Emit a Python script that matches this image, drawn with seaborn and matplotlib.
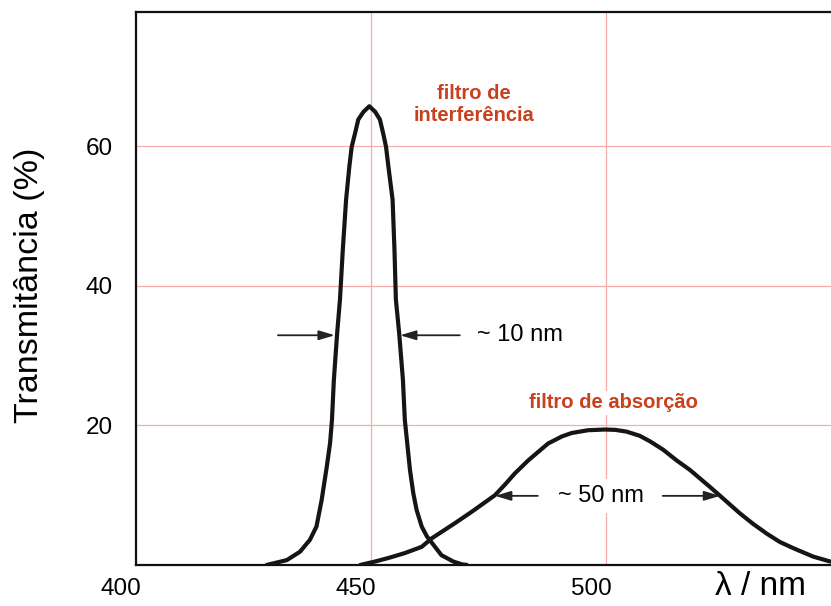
import matplotlib
matplotlib.use("Agg")
import matplotlib.pyplot as plt
import matplotlib.transforms as mtransforms
import seaborn as sns
import pandas as pd

# filtro de interferência: comprimento de onda (nm) x transmitância (%)
wl_interf = [427.8, 432.1, 434.9, 437.0, 438.4, 439.5, 440.6, 441.3, 441.7, 442.1,
             442.8, 443.4, 444.0, 444.7, 445.4, 445.9, 446.6, 447.3, 448.4, 449.65,
             450.9, 451.9, 452.6, 453.2, 453.7, 454.6, 455.0, 455.3, 456.0, 456.8,
             457.2, 458.3, 459.0, 459.7, 460.8, 461.9, 465.0, 467.5, 469.3, 470.4]
t_interf = [0.0, 0.7, 1.9, 3.6, 5.5, 9.3, 14.1, 17.5, 20.8, 26.5,
            33.2, 38.0, 45.1, 52.3, 57.1, 59.9, 61.8, 63.8, 64.9, 65.7,
            64.9, 63.8, 61.8, 59.9, 57.1, 52.3, 45.1, 38.0, 33.2, 26.5,
            20.8, 13.6, 10.3, 7.9, 5.5, 4.1, 1.4, 0.5, 0.1, 0.0]

# filtro de absorção
wl_absor = [447.7, 450.9, 453.7, 457.2, 460.8, 462.9, 467.9, 471.4, 476.4, 478.5,
            480.6, 483.5, 485.6, 487.7, 490.6, 492.7, 496.2, 499.8, 502.0, 504.4,
            507.2, 509.4, 512.2, 515.0, 517.9, 520.0, 522.1, 524.3, 528.5, 531.3,
            534.2, 537.0, 539.9, 544.1, 547.7]
t_absor = [0.0, 0.5, 1.0, 1.7, 2.6, 3.8, 6.0, 7.6, 10.0, 11.5,
           13.1, 15.0, 16.2, 17.4, 18.4, 18.9, 19.3, 19.4, 19.35, 19.1,
           18.5, 17.7, 16.5, 15.0, 13.6, 12.4, 11.2, 9.9, 7.4, 5.9,
           4.5, 3.3, 2.4, 1.2, 0.5]

x_ticks = [400, 450, 500]
y_ticks = [20, 40, 60]
grid_x = [450, 500]
grid_y = [20, 40, 60]

# setas de largura de banda: (cauda, ponta, altura)
arrows_interf = [(430.2, 442.3, 32.9), (468.9, 456.2, 32.9)]
arrows_absor = [(485.5, 476.4, 9.9), (512.1, 524.3, 9.9)]

red = '#C8401E'
pink = '#F5ADA6'

sns.set_style("white")
plt.rcParams['font.family'] = ['Liberation Sans', 'DejaVu Sans']
plt.rcParams['text.color'] = 'black'
plt.rcParams['axes.labelcolor'] = 'black'
plt.rcParams['xtick.color'] = 'black'
plt.rcParams['ytick.color'] = 'black'

fig = plt.figure(figsize=(8.31, 6.06), dpi=100)
ax = fig.add_axes([0.1637, 0.0677, 0.8363, 0.9125])

for gx in grid_x:
    ax.axvline(gx, color=pink, lw=0.9, zorder=0)
for gy in grid_y:
    ax.axhline(gy, color=pink, lw=0.9, zorder=0)

df_i = pd.DataFrame({'wl': wl_interf, 't': t_interf})
df_a = pd.DataFrame({'wl': wl_absor, 't': t_absor})
sns.lineplot(data=df_i, x='wl', y='t', color='#151515', linewidth=3,
             estimator=None, sort=False, ax=ax, solid_capstyle='round',
             solid_joinstyle='round', zorder=3)
sns.lineplot(data=df_a, x='wl', y='t', color='#151515', linewidth=3,
             estimator=None, sort=False, ax=ax, solid_capstyle='round',
             solid_joinstyle='round', zorder=3)

for tail, head, y in arrows_interf + arrows_absor:
    ax.annotate('', xy=(head, y), xytext=(tail, y),
                arrowprops=dict(arrowstyle='-|>,head_length=0.6,head_width=0.18',
                                color='#222222', lw=1.3, mutation_scale=16,
                                shrinkA=0, shrinkB=0), zorder=4)

ax.text(481.6, 32.9, '~ 10 nm', fontsize=17, ha='center', va='center')
ax.text(498.9, 9.9, '~ 50 nm', fontsize=17, ha='center', va='center', zorder=2,
        bbox=dict(facecolor='white', edgecolor='none', pad=4))
ax.text(472.0, 65.9, 'filtro de\ninterferência', fontsize=14.5, fontweight='bold',
        color=red, ha='center', va='center', linespacing=1.2)
ax.text(501.7, 23.2, 'filtro de absorção', fontsize=14.5, fontweight='bold',
        color=red, ha='center', va='center', zorder=2,
        bbox=dict(facecolor='white', edgecolor='none', pad=2))

ax.set_xlim(400, 547.9)
ax.set_ylim(0, 79.2)
ax.set_xticks(x_ticks)
ax.set_yticks(y_ticks)
ax.tick_params(axis='x', length=0, pad=9.5, labelsize=17.5)
ax.tick_params(axis='y', length=0, pad=17, labelsize=17.5)
shift = mtransforms.ScaledTranslation(-0.15, 0, fig.dpi_scale_trans)
for lab in ax.get_xticklabels():
    lab.set_transform(lab.get_transform() + shift)

ax.set_xlabel('λ / nm', fontsize=24)
ax.xaxis.set_label_coords(0.899, -0.011)
ax.set_ylabel('Transmitância (%)', fontsize=24.5)
ax.yaxis.set_label_coords(-0.131, 0.505)

for side in ['left', 'bottom', 'top']:
    ax.spines[side].set_color('#111111')
    ax.spines[side].set_linewidth(1.6)
ax.spines['right'].set_visible(False)

fig.savefig('out.png', dpi=100)
